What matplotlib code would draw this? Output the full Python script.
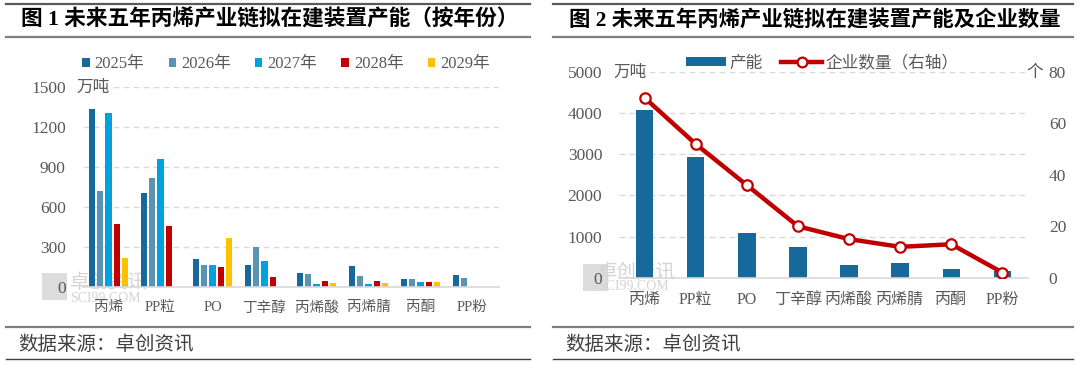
import numpy as np
import matplotlib
matplotlib.use('Agg')
import matplotlib.pyplot as plt
from matplotlib.lines import Line2D
from matplotlib.patches import Patch, Rectangle

# ---- data ----
categories = ['丙烯', 'PP粒', 'PO', '丁辛醇', '丙烯酸', '丙烯腈', '丙酮', 'PP粉']
years = ['2025年', '2026年', '2027年', '2028年', '2029年']
cap_2025 = [1337, 702, 207, 165, 107, 157, 57, 92]
cap_2026 = [717, 820, 165, 302, 100, 82, 57, 65]
cap_2027 = [1307, 962, 165, 192, 20, 20, 35, 0]
cap_2028 = [475, 460, 150, 77, 42, 42, 35, 0]
cap_2029 = [215, 0, 367, 0, 30, 30, 35, 0]
total_cap = [4065, 2945, 1079, 755, 308, 349, 211, 162]
firm_count = [70, 52, 36, 20, 15, 12, 13, 2]
left_yticks = [0, 300, 600, 900, 1200, 1500]
right_yticks = [0, 1000, 2000, 3000, 4000, 5000]
count_ticks = [0, 20, 40, 60, 80]

year_colors = ['#16699A', '#5B93B3', '#00A2DE', '#C00000', '#FFC000']
bar_blue = '#16699A'
line_red = '#C00000'
grey = '#595959'
grid_c = '#D9D9D9'

CJK = ['Noto Sans CJK SC', 'DejaVu Sans']
MIX = ['Liberation Serif', 'Noto Sans CJK SC', 'DejaVu Sans']

W, H = 1080, 365
fig = plt.figure(figsize=(W / 100, H / 100), dpi=100)


def fx(px):
    return px / W


def fy(py):
    return 1 - py / H


def hline(x0, x1, y, lw, color):
    fig.add_artist(Line2D([fx(x0), fx(x1)], [fy(y), fy(y)], lw=lw, color=color,
                          transform=fig.transFigure))


def style_axis(ax, ticks, fs):
    ax.set_facecolor('none')
    for s in ['left', 'right', 'top']:
        ax.spines[s].set_visible(False)
    ax.spines['bottom'].set_color(grid_c)
    ax.spines['bottom'].set_linewidth(1.2)
    ax.set_yticks(ticks)
    ax.yaxis.grid(True, color=grid_c, linestyle=(0, (4.3, 2.9)), linewidth=1.0)
    ax.set_axisbelow(True)
    ax.tick_params(axis='both', length=0, colors=grey)
    for lab in ax.get_yticklabels():
        lab.set_family(MIX)
        lab.set_fontsize(12.5)
    ax.set_xlim(-0.5, len(categories) - 0.5)
    ax.set_xticks(range(len(categories)))
    ax.set_xticklabels(categories, family=MIX, fontsize=fs, color=grey)


# ---- panel frames ----
for x0, x1 in [(6, 530), (553, 1073)]:
    hline(x0, x1, 4, 1.6, '#595959')
    hline(x0, x1, 37, 1.6, '#7F7F7F')
    hline(x0, x1, 327, 1.6, '#7F7F7F')
    hline(x0, x1, 359, 1.0, '#404040')
    fig.text(fx(x0 + 12), fy(345), '数据来源：卓创资讯', family=CJK, fontsize=14,
             color='#404040', va='center', ha='left')

fig.text(fx(21), fy(20), '图 1 未来五年丙烯产业链拟在建装置产能（按年份）', family=MIX,
         fontsize=15.6, fontweight='bold', va='center', ha='left')
fig.text(fx(569), fy(20), '图 2 未来五年丙烯产业链拟在建装置产能及企业数量', family=MIX,
         fontsize=15.4, fontweight='bold', va='center', ha='left')

# ---- watermarks ----
for sx, sy, tx, ty in [(42, 273, 70, 283), (583, 264, 598, 272)]:
    fig.add_artist(Rectangle((fx(sx), fy(sy + 27)), 25 / W, 27 / H, transform=fig.transFigure,
                             facecolor='#DCDCDC', edgecolor='none', zorder=-2))
    fig.text(fx(tx), fy(ty), '卓创资讯', family=CJK, fontsize=14, color='#D4D4D4',
             va='center', ha='left', zorder=-2)
    fig.text(fx(tx), fy(ty + 15), 'SCI99.COM', family=MIX, fontsize=10, color='#D4D4D4',
             va='center', ha='left', zorder=-2)

# ---- left chart ----
ax1 = fig.add_axes([fx(82.5), fy(287), 416 / W, 200 / H])
x = np.arange(len(categories))
series = [cap_2025, cap_2026, cap_2027, cap_2028, cap_2029]
pitch, bw = 0.158, 0.118
for i, (vals, c) in enumerate(zip(series, year_colors)):
    ax1.bar(x + (i - 2) * pitch, vals, width=bw, color=c, label=years[i])
ax1.set_ylim(0, 1500)
style_axis(ax1, left_yticks, 10.5)
ax1.tick_params(axis='y', pad=12)
ax1.tick_params(axis='x', pad=10)

fig.text(fx(76), fy(87), '万吨', family=CJK, fontsize=12, color=grey, va='center', ha='left',
         bbox=dict(facecolor='white', edgecolor='none', pad=1))

h1 = [Patch(facecolor=c, edgecolor='none') for c in year_colors]
fig.legend(h1, years, loc='center', bbox_to_anchor=(fx(286), fy(64)), ncol=5, frameon=False,
           prop={'family': MIX, 'size': 12}, labelcolor=grey, handlelength=0.45,
           handleheight=0.45, handletextpad=0.3, columnspacing=1.45, borderpad=0)

# ---- right chart ----
ax2 = fig.add_axes([fx(619), fy(277.7), 409 / W, 205.7 / H])
ax2.bar(x, total_cap, width=0.34, color=bar_blue)
ax2.set_ylim(0, 5000)
style_axis(ax2, right_yticks, 11.5)
ax2.tick_params(axis='y', pad=12)
ax2.tick_params(axis='x', pad=10)

ax3 = ax2.twinx()
ax3.plot(x, firm_count, color=line_red, lw=3.2, marker='o', markersize=7.5,
         markerfacecolor='white', markeredgecolor=line_red, markeredgewidth=1.6, zorder=5)
ax3.set_ylim(0, 80)
ax3.set_yticks(count_ticks)
for s in ['left', 'right', 'top', 'bottom']:
    ax3.spines[s].set_visible(False)
ax3.tick_params(axis='y', length=0, colors=grey, pad=15)
for lab in ax3.get_yticklabels():
    lab.set_family(MIX)
    lab.set_fontsize(12.5)

fig.text(fx(613), fy(72), '万吨', family=CJK, fontsize=12, color=grey, va='center', ha='left',
         bbox=dict(facecolor='white', edgecolor='none', pad=1))
fig.text(fx(1026), fy(73), '个', family=CJK, fontsize=12, color=grey, va='center', ha='left',
         bbox=dict(facecolor='white', edgecolor='none', pad=0.5))

h2 = [Patch(facecolor=bar_blue, edgecolor='none'),
      Line2D([0], [0], color=line_red, lw=3.2, marker='o', markersize=7,
             markerfacecolor='white', markeredgecolor=line_red, markeredgewidth=1.6)]
fig.legend(h2, ['产能', '企业数量（右轴）'], loc='center', bbox_to_anchor=(fx(822), fy(63)),
           ncol=2, frameon=False, prop={'family': CJK, 'size': 12}, labelcolor=grey,
           handlelength=2.45, handleheight=0.5, handletextpad=0.2, columnspacing=1.1,
           borderpad=0)

fig.savefig('out.png', dpi=100)
